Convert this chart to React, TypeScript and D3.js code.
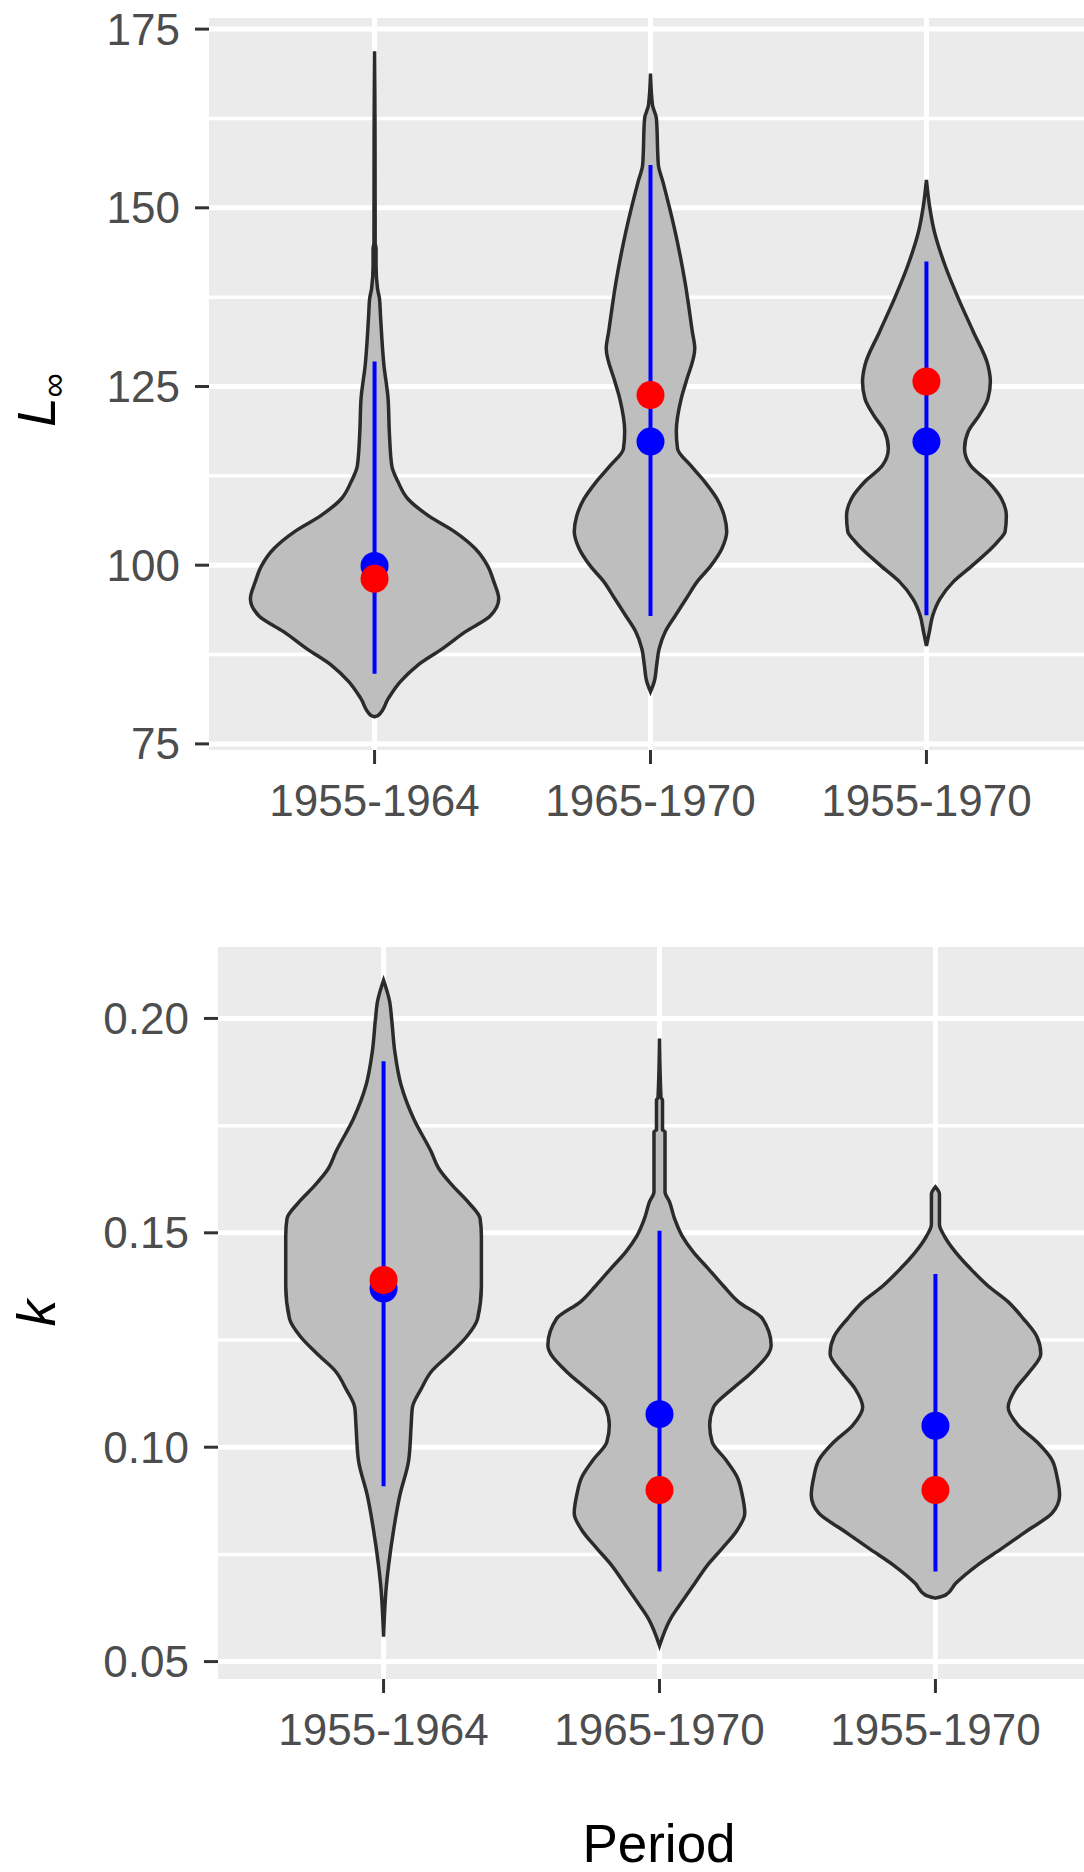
import React from "react";
import * as d3 from "d3";

const periods = ["1955-1964", "1965-1970", "1955-1970"];

// violin outlines: [value, relative half-width]
const linfViolin1 = [
  [78.8, 0], [79.0, 0.03], [81.3, 0.11], [83.7, 0.21], [86.0, 0.35], [88.3, 0.55],
  [90.7, 0.74], [92.9, 0.94], [95.3, 1.01], [97.7, 0.97], [99.9, 0.92], [102.3, 0.82],
  [104.7, 0.65], [106.9, 0.44], [109.3, 0.27], [111.7, 0.19], [113.9, 0.14], [118.7, 0.12],
  [123.3, 0.11], [128.0, 0.076], [135.0, 0.048], [137.3, 0.04], [138.7, 0.024], [142.0, 0.012],
  [144.3, 0.012], [145.0, 0.005], [160.0, 0.004], [171.9, 0],
];
const linfViolin2 = [
  [82.3, 0], [83.7, 0.03], [86.0, 0.05], [88.3, 0.07], [90.7, 0.12], [92.9, 0.2],
  [95.3, 0.29], [97.7, 0.38], [99.9, 0.49], [102.3, 0.58], [104.7, 0.62], [106.9, 0.6],
  [109.3, 0.54], [111.7, 0.44], [113.9, 0.33], [116.3, 0.22], [118.7, 0.21], [123.3, 0.25],
  [125.7, 0.29], [130.3, 0.36], [132.7, 0.34], [139.7, 0.28], [146.7, 0.2], [153.7, 0.1],
  [156.0, 0.064], [162.5, 0.048], [164.4, 0.016], [168.8, 0],
];
const linfViolin3 = [
  [88.7, 0], [90.7, 0.024], [92.9, 0.05], [95.3, 0.11], [97.7, 0.22], [99.9, 0.37],
  [103.3, 0.58], [104.7, 0.64], [106.9, 0.65], [109.3, 0.61], [111.7, 0.5], [113.9, 0.36],
  [116.3, 0.31], [118.7, 0.34], [121.0, 0.43], [123.3, 0.5], [125.7, 0.52], [128.0, 0.5],
  [132.7, 0.38], [137.3, 0.26], [142.0, 0.15], [146.7, 0.064], [150.4, 0.024], [153.9, 0],
];
const linfInterval = [[84.8, 128.5], [92.9, 156.0], [93.0, 142.5]];
const linfBlue = [99.9, 117.3, 117.3];
const linfRed = [98.1, 123.8, 125.7];
const linfTicks = [75, 100, 125, 150, 175];

const kViolin1 = [
  [0.0558, 0], [0.0682, 0.024], [0.0724, 0.04], [0.0807, 0.08], [0.0888, 0.13], [0.0969, 0.2],
  [0.1051, 0.22], [0.1093, 0.23], [0.1136, 0.3], [0.1176, 0.38], [0.1218, 0.53], [0.1257, 0.66],
  [0.13, 0.75], [0.1376, 0.78], [0.1493, 0.78], [0.1533, 0.77], [0.157, 0.68], [0.161, 0.55],
  [0.165, 0.44], [0.1689, 0.38], [0.1766, 0.24], [0.1844, 0.14], [0.1922, 0.09], [0.2, 0.064],
  [0.204, 0.048], [0.2089, 0],
];
const kViolin2 = [
  [0.0537, 0], [0.0601, 0.09], [0.064, 0.18], [0.0682, 0.28], [0.0724, 0.38], [0.0764, 0.5],
  [0.0807, 0.62], [0.0846, 0.68], [0.0888, 0.66], [0.093, 0.62], [0.097, 0.53], [0.1012, 0.42],
  [0.1051, 0.4], [0.1093, 0.43], [0.1136, 0.58], [0.1176, 0.74], [0.1238, 0.89], [0.13, 0.82],
  [0.1339, 0.63], [0.1376, 0.51], [0.1416, 0.39], [0.1455, 0.27], [0.1493, 0.18], [0.1533, 0.12],
  [0.1572, 0.08], [0.1596, 0.044], [0.1736, 0.044], [0.174, 0.024], [0.181, 0.024], [0.1815, 0.012],
  [0.1953, 0],
];
const kViolin3 = [
  [0.0648, 0], [0.0655, 0.08], [0.0682, 0.16], [0.0724, 0.33], [0.0764, 0.53], [0.0807, 0.74],
  [0.0846, 0.93], [0.0888, 0.99], [0.093, 0.97], [0.097, 0.93], [0.1012, 0.81], [0.1051, 0.66],
  [0.1093, 0.58], [0.1136, 0.64], [0.1176, 0.75], [0.1218, 0.84], [0.1257, 0.81], [0.13, 0.7],
  [0.1339, 0.58], [0.1376, 0.42], [0.1416, 0.28], [0.1455, 0.16], [0.1493, 0.07], [0.152, 0.032],
  [0.159, 0.032], [0.1607, 0],
];
const kInterval = [[0.0909, 0.19], [0.071, 0.1505], [0.071, 0.1404]];
const kBlue = [0.137, 0.1077, 0.105];
const kRed = [0.139, 0.09, 0.09];
const kTicks = [0.05, 0.1, 0.15, 0.2];

const FONT = "'Liberation Sans', Arial, sans-serif";

function ViolinPanel({ top, bottom, left, violins, intervals, blue, red, ticks, fmt }) {
  const vals = violins.flat().map((d) => d[0]);
  const [lo, hi] = d3.extent(vals);
  const pad = (hi - lo) * 0.05;
  const y = d3.scaleLinear().domain([lo - pad, hi + pad]).range([bottom, top]);
  const x = d3.scalePoint().domain(periods).range([left, left + 883]).padding(0.6);
  const maxD = d3.max(violins.flat(), (d) => d[1]);
  const w = d3.scaleLinear().domain([0, maxD]).range([0, 0.45 * x.step()]);
  const right = left + 883;

  const minor = ticks.slice(1).map((t, i) => (t + ticks[i]) / 2);

  return (
    <g>
      <rect x={left} y={top} width={right - left} height={bottom - top} fill="#EBEBEB" />
      {minor.map((t) => (
        <line key={"mn" + t} x1={left} x2={right} y1={y(t)} y2={y(t)} stroke="#fff" strokeWidth={3.5} />
      ))}
      {ticks.map((t) => (
        <line key={"mj" + t} x1={left} x2={right} y1={y(t)} y2={y(t)} stroke="#fff" strokeWidth={5} />
      ))}
      {periods.map((p) => (
        <line key={"v" + p} x1={x(p)} x2={x(p)} y1={top} y2={bottom} stroke="#fff" strokeWidth={5} />
      ))}
      {violins.map((v, i) => {
        const cx = x(periods[i]);
        const area = d3
          .area()
          .y((d) => y(d[0]))
          .x0((d) => cx - w(d[1]))
          .x1((d) => cx + w(d[1]))
          .curve(d3.curveMonotoneY);
        return <path key={"vi" + i} d={area(v)} fill="#BEBEBE" stroke="#2B2B2B" strokeWidth={3.5} />;
      })}
      {intervals.map((iv, i) => (
        <line key={"iv" + i} x1={x(periods[i])} x2={x(periods[i])} y1={y(iv[0])} y2={y(iv[1])}
          stroke="#0000FF" strokeWidth={4} />
      ))}
      {blue.map((b, i) => (
        <circle key={"b" + i} cx={x(periods[i])} cy={y(b)} r={14} fill="#0000FF" />
      ))}
      {red.map((r, i) => (
        <circle key={"r" + i} cx={x(periods[i])} cy={y(r)} r={14} fill="#FF0000" />
      ))}
      {ticks.map((t) => (
        <g key={"yt" + t}>
          <line x1={left - 14} x2={left} y1={y(t)} y2={y(t)} stroke="#333333" strokeWidth={3} />
          <text x={left - 29} y={y(t)} dy="0.35em" textAnchor="end" fontSize={44} fill="#4D4D4D"
            fontFamily={FONT}>{fmt(t)}</text>
        </g>
      ))}
      {periods.map((p) => (
        <g key={"xt" + p}>
          <line x1={x(p)} x2={x(p)} y1={bottom} y2={bottom + 14} stroke="#333333" strokeWidth={3} />
          <text x={x(p)} y={bottom + 66} textAnchor="middle" fontSize={44} fill="#4D4D4D"
            fontFamily={FONT}>{p}</text>
        </g>
      ))}
    </g>
  );
}

export default function App() {
  return (
    <svg width={1084} height={1872} style={{ position: "absolute", left: 0, top: 0, background: "#fff" }}>
      <ViolinPanel top={18} bottom={750} left={209} violins={[linfViolin1, linfViolin2, linfViolin3]}
        intervals={linfInterval} blue={linfBlue} red={linfRed} ticks={linfTicks} fmt={d3.format("d")} />
      <ViolinPanel top={947} bottom={1679} left={218} violins={[kViolin1, kViolin2, kViolin3]}
        intervals={kInterval} blue={kBlue} red={kRed} ticks={kTicks} fmt={d3.format(".2f")} />
      <text transform="translate(55,400) rotate(-90)" textAnchor="middle" fontSize={53} fontFamily={FONT} fill="#000">
        <tspan fontStyle="italic">L</tspan>
        <tspan fontSize={34} dy={10}>∞</tspan>
      </text>
      <text transform="translate(55,1313) rotate(-90)" textAnchor="middle" fontSize={53} fontFamily={FONT}
        fontStyle="italic" fill="#000">k</text>
      <text x={659} y={1862} textAnchor="middle" fontSize={53} fontFamily={FONT} fill="#000">Period</text>
    </svg>
  );
}
